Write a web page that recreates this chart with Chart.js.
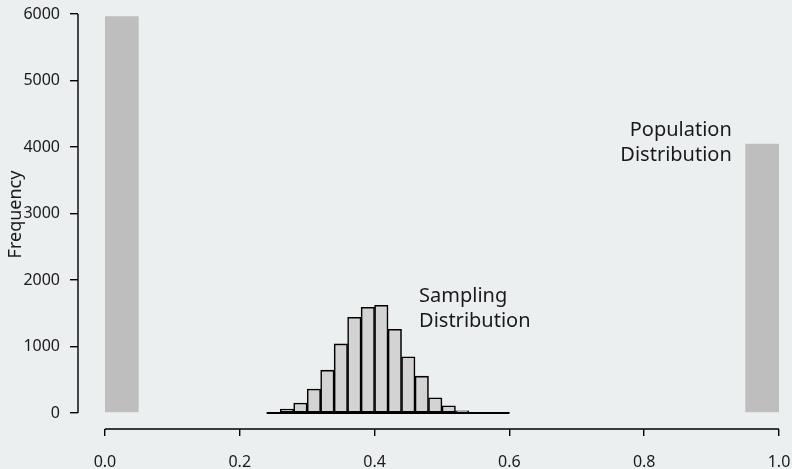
<!DOCTYPE html>
<html>
<head>
<meta charset="utf-8">
<script src="https://cdn.jsdelivr.net/npm/chart.js@4"></script>
<style>
  html, body { margin: 0; padding: 0; background: #ECEFF0; }
  #wrap { width: 792px; height: 469px; }
</style>
</head>
<body>
<div id="wrap"><canvas id="chart" width="792" height="469"></canvas></div>
<script>
// population distribution (two bars)
const popLeft = [0, 0.95];
const popCounts = [5965, 4050];
const popWidth = 0.05;

// sampling distribution histogram
const binLeft = [0.24, 0.26, 0.28, 0.30, 0.32, 0.34, 0.36, 0.38, 0.40,
                 0.42, 0.44, 0.46, 0.48, 0.50, 0.52, 0.54, 0.56, 0.58];
const binCounts = [10, 60, 150, 360, 645, 1040, 1440, 1590, 1620,
                   1260, 845, 555, 230, 110, 35, 6, 3, 2];
const binWidth = 0.02;

const xTicks = [0, 0.2, 0.4, 0.6, 0.8, 1.0];
const yTicks = [0, 1000, 2000, 3000, 4000, 5000, 6000];

const FONT = "'Noto Sans', 'Open Sans', sans-serif";
Chart.defaults.font.family = FONT;
Chart.defaults.color = "#1a1a1a";

const rStyle = {
  id: "rStyle",
  afterDatasetsDraw(chart) {
    const { ctx, scales: { x, y }, chartArea } = chart;
    ctx.save();
    ctx.strokeStyle = "#000";
    ctx.lineWidth = 1.4;
    ctx.beginPath();
    ctx.moveTo(chartArea.left, y.getPixelForValue(yTicks[0]));
    ctx.lineTo(chartArea.left, y.getPixelForValue(yTicks[yTicks.length - 1]));
    ctx.moveTo(x.getPixelForValue(xTicks[0]), chartArea.bottom);
    ctx.lineTo(x.getPixelForValue(xTicks[xTicks.length - 1]), chartArea.bottom);
    ctx.stroke();

    // bottom edges of the histogram rectangles
    ctx.lineWidth = 2;
    ctx.beginPath();
    const y0 = y.getPixelForValue(0);
    ctx.moveTo(x.getPixelForValue(binLeft[0]), y0);
    ctx.lineTo(x.getPixelForValue(binLeft[binLeft.length - 1] + binWidth), y0);
    ctx.stroke();

    ctx.fillStyle = "#1a1a1a";
    ctx.font = "20px " + FONT;
    ctx.textBaseline = "middle";
    ctx.textAlign = "left";
    let px = x.getPixelForValue(0.466), py = y.getPixelForValue(1560);
    ctx.fillText("Sampling", px, py - 12.5);
    ctx.fillText("Distribution", px, py + 12.5);
    ctx.textAlign = "right";
    px = x.getPixelForValue(0.93); py = y.getPixelForValue(4060);
    ctx.fillText("Population", px, py - 12.5);
    ctx.fillText("Distribution", px, py + 12.5);
    ctx.restore();
  }
};

new Chart(document.getElementById("chart"), {
  type: "bar",
  data: {
    datasets: [
      {
        label: "Population",
        data: popLeft.map((v, i) => ({ x: v + popWidth / 2, y: popCounts[i] })),
        backgroundColor: "#BEBEBE",
        borderWidth: 0,
        barPercentage: popWidth / binWidth
      },
      {
        label: "Sampling",
        data: binLeft.map((v, i) => ({ x: v + binWidth / 2, y: binCounts[i] })),
        backgroundColor: "#D3D3D3",
        borderColor: "#000",
        borderWidth: 1.6,
        borderSkipped: false
      }
    ]
  },
  options: {
    responsive: false,
    animation: false,
    grouped: false,
    categoryPercentage: 1,
    barPercentage: 1,
    layout: { padding: 0 },
    plugins: { legend: { display: false }, tooltip: { enabled: false } },
    scales: {
      x: {
        type: "linear",
        offset: false,
        min: -0.04,
        max: 1.0193,
        afterBuildTicks: s => { s.ticks = xTicks.map(v => ({ value: v })); },
        afterFit: s => { s.height = 40; s.paddingLeft = 0; s.paddingRight = 0; },
        ticks: { font: { size: 16 }, padding: 17, maxRotation: 0, callback: v => v.toFixed(1) },
        grid: { drawOnChartArea: false, color: "#000", lineWidth: 1.4, tickLength: 7, offset: false },
        border: { display: false }
      },
      y: {
        min: -240,
        max: 6210,
        afterBuildTicks: s => { s.ticks = yTicks.map(v => ({ value: v })); },
        afterFit: s => { s.width = 78; s.paddingTop = 0; s.paddingBottom = 0; },
        ticks: { font: { size: 16 }, padding: 10, callback: v => String(v) },
        grid: { drawOnChartArea: false, color: "#000", lineWidth: 1.4, tickLength: 8 },
        border: { display: false },
        title: { display: true, text: "Frequency", font: { size: 18 }, padding: { top: 5, bottom: 0 } }
      }
    }
  },
  plugins: [rStyle]
});
</script>
</body>
</html>
